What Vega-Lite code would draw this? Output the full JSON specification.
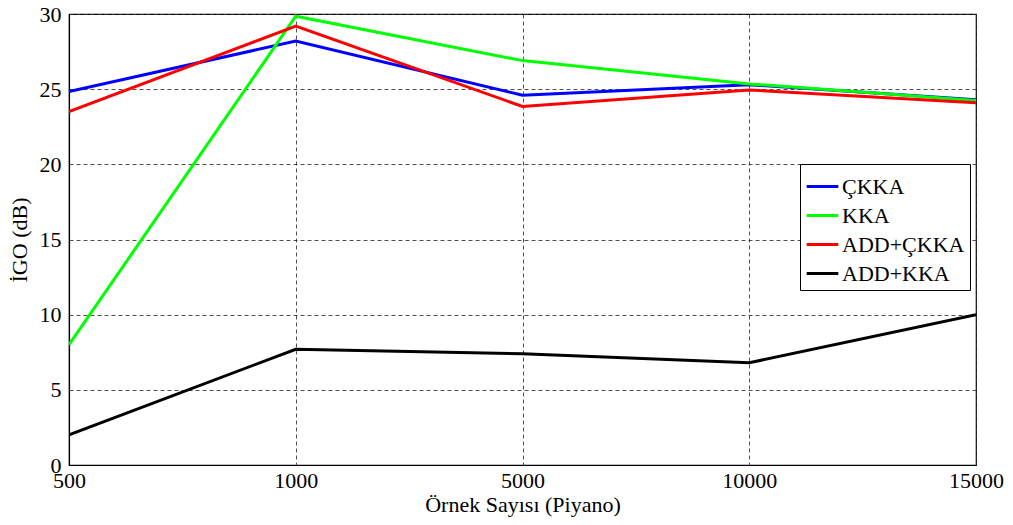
{
  "$schema": "https://vega.github.io/schema/vega-lite/v6.json",
  "width": 907,
  "height": 451,
  "autosize": {"type": "none"},
  "padding": {"left": 69, "top": 14, "right": 37, "bottom": 60},
  "background": "white",
  "config": {
    "font": "Liberation Serif",
    "view": {"stroke": "black", "strokeWidth": 1.2},
    "axis": {
      "labelFont": "Liberation Serif",
      "titleFont": "Liberation Serif",
      "labelFontSize": 22,
      "titleFontSize": 22,
      "labelColor": "black",
      "titleColor": "black",
      "titleFontWeight": "normal",
      "domainColor": "black",
      "domainWidth": 1.2,
      "ticks": false,
      "gridColor": "#333",
      "gridDash": [4, 3],
      "gridWidth": 1,
      "gridOpacity": 0.85
    }
  },
  "data": {
    "values": [
      {"n": "500", "series": "ÇKKA", "v": 24.85},
      {"n": "1000", "series": "ÇKKA", "v": 28.2},
      {"n": "5000", "series": "ÇKKA", "v": 24.6},
      {"n": "10000", "series": "ÇKKA", "v": 25.3},
      {"n": "15000", "series": "ÇKKA", "v": 24.3},
      {"n": "500", "series": "KKA", "v": 8.0},
      {"n": "1000", "series": "KKA", "v": 29.85},
      {"n": "5000", "series": "KKA", "v": 26.9},
      {"n": "10000", "series": "KKA", "v": 25.35},
      {"n": "15000", "series": "KKA", "v": 24.25},
      {"n": "500", "series": "ADD+ÇKKA", "v": 23.5},
      {"n": "1000", "series": "ADD+ÇKKA", "v": 29.2},
      {"n": "5000", "series": "ADD+ÇKKA", "v": 23.85},
      {"n": "10000", "series": "ADD+ÇKKA", "v": 24.95},
      {"n": "15000", "series": "ADD+ÇKKA", "v": 24.1},
      {"n": "500", "series": "ADD+KKA", "v": 2.0},
      {"n": "1000", "series": "ADD+KKA", "v": 7.7},
      {"n": "5000", "series": "ADD+KKA", "v": 7.4},
      {"n": "10000", "series": "ADD+KKA", "v": 6.8},
      {"n": "15000", "series": "ADD+KKA", "v": 10.0}
    ]
  },
  "mark": {"type": "line", "strokeWidth": 3, "clip": true},
  "encoding": {
    "x": {
      "field": "n",
      "type": "ordinal",
      "sort": ["500", "1000", "5000", "10000", "15000"],
      "scale": {"type": "point", "padding": 0},
      "axis": {"title": "Örnek Sayısı (Piyano)", "labelAngle": 0, "labelPadding": 5, "titlePadding": 3, "grid": true}
    },
    "y": {
      "field": "v",
      "type": "quantitative",
      "scale": {"domain": [0, 30], "nice": false},
      "axis": {"title": "İGO (dB)", "values": [0, 5, 10, 15, 20, 25, 30], "labelPadding": 8, "titlePadding": 8, "grid": true}
    },
    "color": {
      "field": "series",
      "type": "nominal",
      "sort": ["ÇKKA", "KKA", "ADD+ÇKKA", "ADD+KKA"],
      "scale": {
        "domain": ["ÇKKA", "KKA", "ADD+ÇKKA", "ADD+KKA"],
        "range": ["#0000FF", "#00FF00", "#FF0000", "#000000"]
      },
      "legend": {
        "title": null,
        "orient": "none",
        "legendX": 731,
        "legendY": 150,
        "symbolType": "stroke",
        "symbolStrokeWidth": 3,
        "symbolSize": 1000,
        "labelFont": "Liberation Serif",
        "labelFontSize": 22,
        "labelColor": "black",
        "labelOffset": 2,
        "rowPadding": 0,
        "fillColor": "white",
        "strokeColor": "black",
        "padding": 5
      }
    }
  }
}
